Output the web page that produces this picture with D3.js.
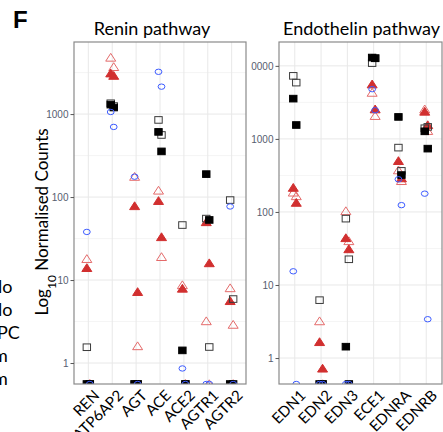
<!DOCTYPE html>
<html>
<head>
<meta charset="utf-8">
<script src="https://cdn.jsdelivr.net/npm/d3@7"></script>
<style>
  body { margin: 0; background: #fff; }
  text { font-family: Lato, "Open Sans", sans-serif; }
</style>
</head>
<body>
<div id="chart"></div>
<script>
// ---- data (two replicates per group and gene, 0 = not detected) ----
const reninGenes = ["REN", "ATP6AP2", "AGT", "ACE", "ACE2", "AGTR1", "AGTR2"];
const reninOpenTri = [[18, 0], [4800, 3700], [176, 1.6], [120, 19], [8.7, 0], [3.2, 0], [8.0, 2.9]];
const reninFilledTri = [[14, 0], [3100, 2900], [78, 7.2], [90, 33], [7.9, 0], [50, 16], [5.6, 0]];
const reninOpenSq = [[1.55, 0], [1350, 1250], [0, 0], [850, 560], [46, 0], [55, 1.56], [92, 5.9]];
const reninBlackSq = [[0, 0], [1300, 1200], [0, 0], [610, 355], [1.42, 0], [189, 53], [0, 0]];
const reninCircle = [[38, 0], [1060, 700], [176, 0], [3230, 2140], [0.86, 0], [0, 0], [77, 0]];

const endoGenes = ["EDN1", "EDN2", "EDN3", "ECE1", "EDNRA", "EDNRB"];
const endoOpenTri = [[185, 165], [3.2, 0], [103, 40], [4300, 2070], [373, 266], [2550, 1290]];
const endoFilledTri = [[215, 134], [1.66, 0.72], [44, 31], [5600, 2550], [500, 290], [2370, 1550]];
const endoOpenSq = [[7300, 5900], [6.2, 0], [81, 22.5], [10900, 12800], [760, 365], [1400, 1460]];
const endoBlackSq = [[3560, 1550], [0, 0], [1.43, 0], [13000, 12700], [2000, 320], [1270, 736]];
const endoCircle = [[15.4, 0], [0, 0], [0, 0], [4800, 2470], [280, 124], [178, 3.4]];

const legendBits = ["lo", "lo", "PC", "m", "m"];

// ---- layout ----
const width = 443, height = 432;
const plotTop = 42, plotBottom = 384;

const svg = d3.select("#chart").append("svg")
  .attr("width", width).attr("height", height);

const defs = svg.append("defs");

// marker styles drawn in this order (later on top)
const styles = [
  { key: "openTri", shape: "tri", fill: "none", stroke: "#e46a6a" },
  { key: "filledTri", shape: "tri", fill: "#d12f2f", stroke: "#d12f2f" },
  { key: "openSq", shape: "sq", fill: "none", stroke: "#3a3a3a" },
  { key: "blackSq", shape: "sq", fill: "#000", stroke: "#000" },
  { key: "circle", shape: "circ", fill: "none", stroke: "#3d5cff" },
];

const panels = [
  {
    id: "renin", title: "Renin pathway", genes: reninGenes, x0: 74, x1: 246, titleX: 152, anchor: "middle",
    series: { openTri: reninOpenTri, filledTri: reninFilledTri, openSq: reninOpenSq, blackSq: reninBlackSq, circle: reninCircle },
  },
  {
    id: "endo", title: "Endothelin pathway", genes: endoGenes, x0: 279, x1: 442, titleX: 283, anchor: "start",
    series: { openTri: endoOpenTri, filledTri: endoFilledTri, openSq: endoOpenSq, blackSq: endoBlackSq, circle: endoCircle },
  },
];

// draw right panel first so the left one sits on top of its clipped labels
[panels[1], panels[0]].forEach(drawPanel);

function drawPanel(p) {
  const all = [];
  styles.forEach((s) => p.series[s.key].forEach((pair) => pair.forEach((v) => all.push(v))));
  const nz = all.filter((v) => v > 0);
  const lo = Math.log10(d3.min(nz)), hi = Math.log10(d3.max(nz));
  const pad = (hi - lo) * 0.05;

  const y = d3.scaleLog().domain([10 ** (lo - pad), 10 ** (hi + pad)]).range([plotBottom, plotTop]);
  const x = d3.scalePoint().domain(p.genes).range([p.x0, p.x1]).padding(0.6);

  const g = svg.append("g");

  // panel background
  g.append("rect").attr("x", p.x0).attr("y", plotTop)
    .attr("width", p.x1 - p.x0).attr("height", plotBottom - plotTop).attr("fill", "#fff");

  const majors = d3.range(Math.ceil(lo - pad), Math.floor(hi + pad) + 1).map((e) => 10 ** e);
  const minors = d3.range(Math.ceil(lo - pad - 0.5), Math.floor(hi + pad - 0.5) + 1)
    .map((e) => 10 ** (e + 0.5)).filter((v) => v >= y.domain()[0] && v <= y.domain()[1]);

  g.selectAll(".minor").data(minors).join("line")
    .attr("x1", p.x0).attr("x2", p.x1)
    .attr("y1", (d) => y(d)).attr("y2", (d) => y(d))
    .attr("stroke", "#f3f3f3").attr("stroke-width", 0.8);
  g.selectAll(".major").data(majors).join("line")
    .attr("x1", p.x0).attr("x2", p.x1)
    .attr("y1", (d) => y(d)).attr("y2", (d) => y(d))
    .attr("stroke", "#e8e8e8").attr("stroke-width", 1);
  g.selectAll(".vgrid").data(p.genes).join("line")
    .attr("x1", (d) => x(d)).attr("x2", (d) => x(d))
    .attr("y1", plotTop).attr("y2", plotBottom)
    .attr("stroke", "#e8e8e8").attr("stroke-width", 1);

  // clip points to the panel
  defs.append("clipPath").attr("id", "clip-" + p.id)
    .append("rect").attr("x", p.x0).attr("y", plotTop)
    .attr("width", p.x1 - p.x0).attr("height", plotBottom - plotTop);

  const pts = g.append("g").attr("clip-path", `url(#clip-${p.id})`);

  styles.forEach((s) => {
    const rows = [];
    p.series[s.key].forEach((pair, gi) =>
      pair.forEach((v, r) => rows.push({ gene: p.genes[gi], value: v, rep: r }))
    );
    const px = (d) => x(d.gene) + (d.rep === 0 ? -1.5 : 1.5);
    const py = (d) => (d.value > 0 ? y(d.value) : plotBottom);
    const sel = pts.selectAll(null).data(rows);
    if (s.shape === "tri") {
      sel.join("path")
        .attr("d", (d) => {
          const cx = px(d), cy = py(d);
          return `M${cx - 5},${cy + 3.6}L${cx + 5},${cy + 3.6}L${cx},${cy - 4.2}Z`;
        })
        .attr("fill", s.fill).attr("stroke", s.stroke).attr("stroke-width", 1);
    } else if (s.shape === "sq") {
      sel.join("rect")
        .attr("x", (d) => px(d) - 3.7).attr("y", (d) => py(d) - 3.3)
        .attr("width", 7.4).attr("height", 6.6)
        .attr("fill", s.fill).attr("stroke", s.stroke).attr("stroke-width", 1);
    } else {
      sel.join("ellipse")
        .attr("cx", px).attr("cy", py).attr("rx", 3.4).attr("ry", 2.7)
        .attr("fill", s.fill).attr("stroke", s.stroke).attr("stroke-width", 1);
    }
  });

  // border
  g.append("rect").attr("x", p.x0).attr("y", plotTop)
    .attr("width", p.x1 - p.x0).attr("height", plotBottom - plotTop)
    .attr("fill", "none").attr("stroke", "#8a8a8a").attr("stroke-width", 1.2);

  // y axis (wrapped so the clip for the right panel is in page coordinates)
  const yWrap = g.append("g");
  const yAxis = yWrap.append("g")
    .attr("transform", `translate(${p.x0},0)`)
    .call(d3.axisLeft(y).tickValues(majors).tickFormat(d3.format("d")).tickSize(3.5).tickPadding(2));
  yAxis.select(".domain").remove();
  yAxis.selectAll(".tick line").attr("stroke", "#555");
  yAxis.selectAll(".tick text")
    .attr("fill", "#565d70").style("font-size", "10px")
    .style("font-family", "'Liberation Sans', Arial, sans-serif");
  if (p.id === "endo") {
    defs.append("clipPath").attr("id", "clip-ylab")
      .append("rect").attr("x", 251).attr("y", 0).attr("width", 40).attr("height", height);
    yWrap.attr("clip-path", "url(#clip-ylab)");
  }

  // x labels
  g.selectAll(".xlab").data(p.genes).join("text")
    .attr("transform", (d) => `translate(${x(d) + 4.5},${plotBottom + 5}) rotate(-45)`)
    .attr("text-anchor", "end").attr("dy", "0.7em")
    .style("font-size", "15px").attr("fill", "#000")
    .text((d) => d);

  // title
  g.append("text")
    .attr("x", p.titleX).attr("y", 35)
    .attr("text-anchor", p.anchor).style("font-size", "18px")
    .text(p.title);
}

// y axis title
const yTitle = svg.append("text")
  .attr("transform", "translate(48,222) rotate(-90)")
  .attr("text-anchor", "middle").style("font-size", "17px");
yTitle.append("tspan").text("Log");
yTitle.append("tspan").attr("baseline-shift", "sub").style("font-size", "12px").text("10");
yTitle.append("tspan").text(" Normalised Counts");

// panel letter
svg.append("text").attr("x", 13).attr("y", 28)
  .style("font-size", "24px").style("font-weight", "bold")
  .style("font-family", "'Liberation Sans', Arial, sans-serif")
  .text("F");

// truncated legend labels on the left edge
svg.selectAll(".leg").data(legendBits).join("text")
  .attr("x", (d) => (d === "lo" ? -2 : d === "PC" ? -3 : -7))
  .attr("y", (d, i) => 293 + i * 23)
  .style("font-size", "18px")
  .text((d) => d);
</script>
</body>
</html>
